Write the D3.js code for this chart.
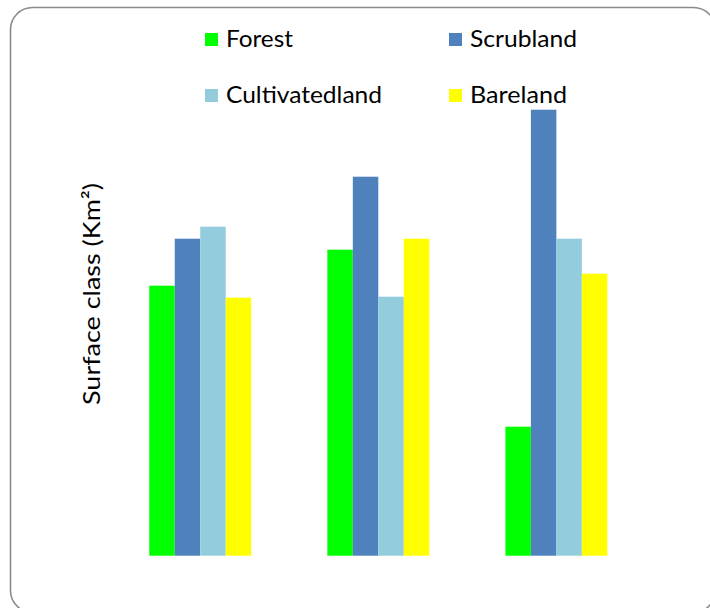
<!DOCTYPE html>
<html>
<head>
<meta charset="utf-8">
<script src="https://cdn.jsdelivr.net/npm/d3@7/dist/d3.min.js"></script>
<style>
  html, body { margin: 0; padding: 0; background: #fff; }
  svg { display: block; }
  text { font-family: Lato, "Open Sans", sans-serif; fill: #000; }
</style>
</head>
<body>
<svg id="chart" width="710" height="608"></svg>
<script>
// Survey periods (not labelled on the chart)
const categories = ["Period 1", "Period 2", "Period 3"];
const series = ["Forest", "Scrubland", "Cultivatedland", "Bareland"];
const colors = ["#00ff00", "#4f81bd", "#93cddd", "#ffff00"];

// Surface per class, one array per period (Km²)
const period1 = [27.0, 31.7, 32.9, 25.8];
const period2 = [30.6, 37.9, 25.9, 31.7];
const period3 = [12.9, 44.6, 31.7, 28.2];
const values = [period1, period2, period3];

const yLabel = "Surface class (Km²)";

const svg = d3.select("#chart");

// Rounded outer frame
svg.append("rect")
  .attr("x", 10.5).attr("y", 7.5)
  .attr("width", 705).attr("height", 605)
  .attr("rx", 22).attr("ry", 22)
  .attr("fill", "#fff")
  .attr("stroke", "#8a8a8a")
  .attr("stroke-width", 1.6);

const baseY = 555.7;
const y = d3.scaleLinear().domain([0, 50]).range([baseY, baseY - 500]);

const x0 = d3.scaleBand()
  .domain(categories)
  .range([111.2, 645.4])
  .paddingInner(0.4276)
  .paddingOuter(0.2138);

const x1 = d3.scaleBand()
  .domain(series)
  .range([0, x0.bandwidth()])
  .padding(0);

const color = d3.scaleOrdinal().domain(series).range(colors);

const groups = svg.append("g").selectAll("g")
  .data(categories)
  .join("g")
  .attr("transform", d => `translate(${x0(d)},0)`);

groups.selectAll("rect")
  .data((d, i) => series.map((s, j) => ({ s, v: values[i][j] })))
  .join("rect")
  .attr("x", d => x1(d.s))
  .attr("width", x1.bandwidth())
  .attr("y", d => y(d.v))
  .attr("height", d => y(0) - y(d.v))
  .attr("fill", d => color(d.s));

// Y axis title
svg.append("text")
  .attr("transform", "translate(100,294) rotate(-90)")
  .attr("text-anchor", "middle")
  .attr("font-size", 23.5)
  .attr("textLength", 222)
  .attr("lengthAdjust", "spacingAndGlyphs")
  .text(yLabel);

// Legend: two columns, two rows
const legendPos = [
  [205, 33], [449, 33],
  [205, 89], [449, 89]
];
const legendWidths = [67, 107, 156, 97];
const legend = svg.append("g").selectAll("g")
  .data(series)
  .join("g")
  .attr("transform", (d, i) => `translate(${legendPos[i][0]},${legendPos[i][1]})`);

legend.append("rect")
  .attr("width", 13).attr("height", 13)
  .attr("fill", d => color(d));

legend.append("text")
  .attr("x", 21).attr("y", 14)
  .attr("font-size", 23.5)
  .attr("textLength", (d, i) => legendWidths[i])
  .attr("lengthAdjust", "spacingAndGlyphs")
  .text(d => d);
</script>
</body>
</html>
